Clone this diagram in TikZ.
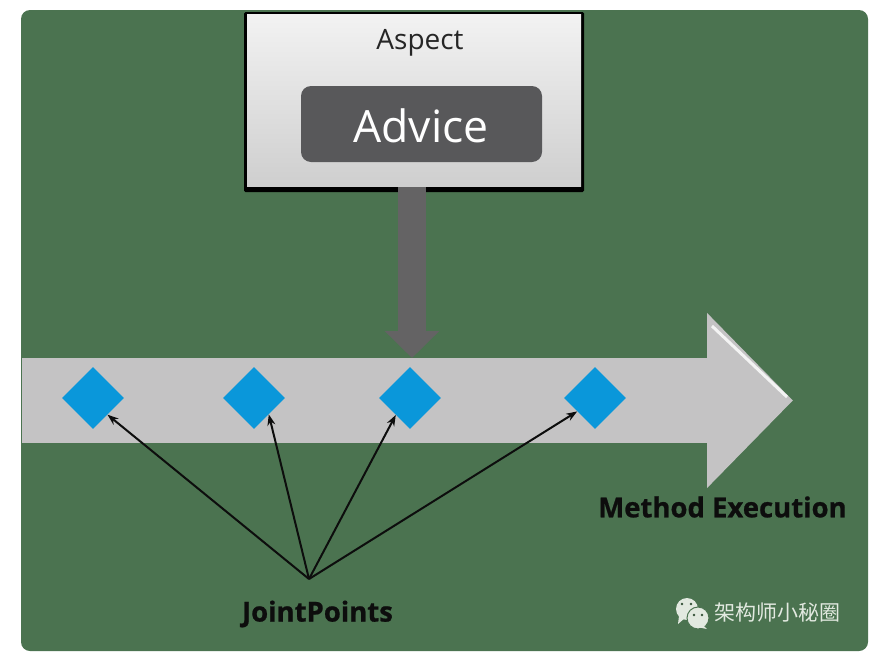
\documentclass[tikz,border=0pt]{standalone}
\usepackage{fontspec}
\setmainfont{Open Sans}
\newfontfamily\cjkfont{Noto Sans CJK SC}
\usetikzlibrary{arrows.meta,shapes,positioning,calc}
\definecolor{bggreen}{HTML}{4B7350}
\definecolor{barcolor}{HTML}{C4C3C4}
\definecolor{pushcolor}{HTML}{646364}
\definecolor{advcolor}{HTML}{58585A}
\definecolor{jpblue}{HTML}{0A97DA}
\definecolor{markcolor}{HTML}{E2E9E0}
\tikzset{
  jpoint/.style={diamond, fill=jpblue, inner sep=0pt, minimum width=62pt, minimum height=62pt},
  jparrow/.style={-{Stealth[length=11pt,width=8pt]}, line width=2pt, black!95},
  boldlabel/.style={inner sep=0pt, text=black!95, font=\bfseries\fontsize{27.5}{27.5}\selectfont\addfontfeatures{FakeBold=0.8}}
}
\begin{document}
\begin{tikzpicture}[x=1pt,y=-1pt]
\useasboundingbox [fill=white] (0,0) rectangle (887,667);
\fill [bggreen, rounded corners=9pt] (21,10) rectangle (868,651);

% Aspect box
\node [fill=black, rounded corners=1.5pt, inner sep=0pt, minimum width=340pt, minimum height=180pt] (shadow) at (414,102){};
\node [top color=white!95!black, bottom color=white!81!black, inner sep=0pt, minimum width=334pt, minimum height=172pt] (aspect) at (414,100){};
\node [font=\fontsize{28}{28}\selectfont, text=black!85, inner sep=0pt] (aspectlabel) at (420,43){Aspect};
\node [fill=advcolor, rounded corners=10pt, text=white, inner sep=0pt, minimum width=241pt, minimum height=76pt] (advice) at (421.5,124){};
\node [font=\fontsize{44.5}{44.5}\selectfont, text=white, inner sep=0pt] (advicelabel) at (421,126){Advice};

% long arrow
\coordinate (barstart) at (22,400.5);
\coordinate (bartip) at (793,400.5);
\draw [-{Triangle[length=86pt,width=170pt]}, line width=85pt, barcolor] (barstart) -- (bartip);
\coordinate (shinea) at (712,326);
\coordinate (shineb) at (787,397);
\draw [line width=3pt, white!80!barcolor] (shinea) -- (shineb);

% push arrow
\coordinate (pushstart) at (412,187);
\coordinate (pushend) at (412,358);
\draw [-{Triangle[length=27pt,width=53pt]}, line width=28pt, pushcolor] (pushstart) -- (pushend);

% joint points
\node [jpoint] (jp1) at (93,398){};
\node [jpoint] (jp2) at (254,398){};
\node [jpoint] (jp3) at (410,398){};
\node [jpoint] (jp4) at (595,398){};

\node [boldlabel] (method) at (722.5,507){Method Execution};
\node [boldlabel] (joint) at (317.5,614){JointPoints};

\coordinate (fan) at (309,579);
\draw [jparrow] (fan) -- (jp1.-49);
\draw [jparrow] (fan) -- (jp2.-48);
\draw [jparrow] (fan) -- (jp3.-130);
\draw [jparrow] (fan) -- (jp4.-143);

% wechat mark
\node [circle, fill=markcolor, inner sep=0pt, minimum size=22pt] (bubblea) at (687,609){};
\node [circle, fill=markcolor, draw=bggreen, line width=1pt, inner sep=0pt, minimum size=22pt] (bubbleb) at (698,618){};
\fill [markcolor] (679,616) -- (678,624) -- (685,618) -- cycle;
\fill [markcolor] (703,625) -- (707,629) -- (697,627) -- cycle;
\foreach \ex/\ey in {682/604,691/604,694/615,702/615}
  \fill [bggreen!70!black] (\ex,\ey) circle (1.4pt);
\node [font=\cjkfont\fontsize{21}{21}\selectfont, text=markcolor, inner sep=0pt] (mark) at (777.5,613){架构师小秘圈};
\end{tikzpicture}
\end{document}
